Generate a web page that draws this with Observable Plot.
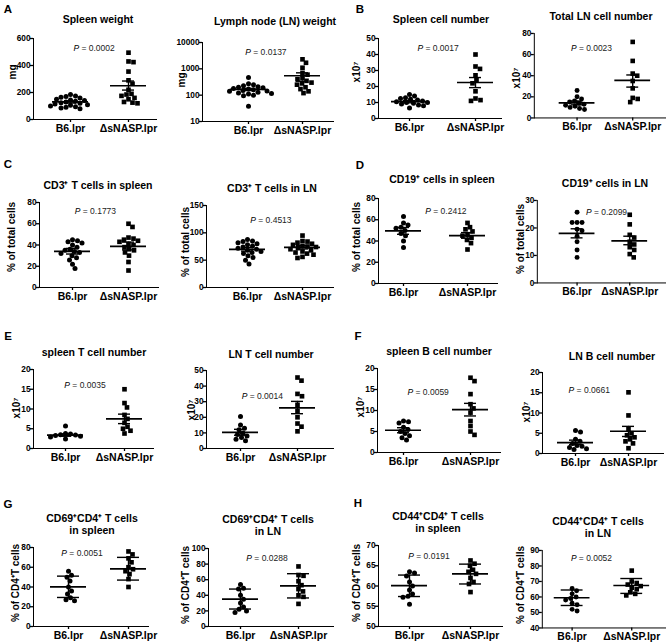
<!DOCTYPE html>
<html><head><meta charset="utf-8">
<script src="https://cdn.jsdelivr.net/npm/d3@7"></script>
<script src="https://cdn.jsdelivr.net/npm/@observablehq/plot@0.6"></script>
<style>
body{margin:0;background:#fff;}
#fig{position:relative;width:669px;height:644px;overflow:hidden;background:#fff;font-family:"Liberation Sans",Arial,Helvetica,sans-serif;color:#000;}
.panel{position:absolute;}
.title{position:absolute;transform:translate(-50%,-50%);font-weight:bold;font-size:10.5px;white-space:nowrap;text-align:center;line-height:12px;}
.letter{position:absolute;transform:translate(-50%,-50%);font-weight:bold;font-size:11.5px;}
.ylab{position:absolute;transform:translate(-50%,-50%) rotate(-90deg);font-weight:bold;font-size:10px;white-space:nowrap;}
g[aria-label^="x-axis"] text{font-size:10.5px;}
g[aria-label^="x-axis"] path, g[aria-label^="x-axis"] line, g[aria-label^="y-axis"] path, g[aria-label^="y-axis"] line{stroke-width:1.3px;}
</style></head><body><div id="fig"></div><script>
const groups = ["B6.lpr", "\u0394sNASP.lpr"];

// ---- point values (B6.lpr = circles, ΔsNASP.lpr = squares) ----
const spleenWeightB6 = [185,175,170,165,160,150,145,140,135,130,125,120,115,110,105,100,95,90,85,80];
const spleenWeightKO = [495,430,425,355,290,265,220,190,185,175,160,150,130,125,120];
const lnWeightB6 = [470,270,250,230,210,200,190,180,170,160,150,145,140,130,120,115,110,100,95,38];
const lnWeightKO = [2300,1700,1100,700,600,450,400,350,300,280,250,200,170,140,120];
const spleenCellsB6 = [15,14,13,12.5,12,11.5,11,10.5,10,10,9.5,9,8.5,8,6.5];
const spleenCellsKO = [40,32.5,31,27,24,22,17,12.5,11.5,11];
const lnCellsB6 = [26,20,18,16,15,14,13,12,11,10,9,8];
const lnCellsKO = [72,54,42,40,35,28,19,18,15];
const cd3SpleenB6 = [45,44,43,42,40,38,36,35,34,33,32,30,28,26,22,18];
const cd3SpleenKO = [60,57,47,46,45,44,43,41,40,38,36,35,33,30,24,16];
const cd3LnB6 = [88,85,84,82,80,78,76,74,72,70,68,66,64,62,58,55,50,43];
const cd3LnKO = [95,85,84,82,80,78,76,75,74,72,70,68,66,64,62,60,56,54];
const cd19SpleenB6 = [63,57,55,53,52,50,47,45,40,34];
const cd19SpleenKO = [57,53,51,49,46,45,43,41,38,32];
const cd19LnB6 = [25.7,22,22,22,19.5,19,17,15,12,9.3];
const cd19LnKO = [24.8,21.3,17.5,16.5,15,14,13,12,10.5,9.3];
const spleenTB6 = [5.7,3.8,3.7,3.5,3.4,3.3,3.1,2.9,2.4];
const spleenTKO = [15,11.5,10.4,8.5,7.5,6.5,5.5,5,4.5,3.8];
const lnTB6 = [20.5,15,13,12,10,9,8,7,6,5];
const lnTKO = [45.5,43.5,35,33.5,28,24,20,16,14,11];
const spleenBB6 = [7.5,7.3,7,6,5.5,5,4.5,4,3.5,3];
const spleenBKO = [17.8,17,13.9,11.5,10.5,9.5,7.5,6.3,5,4.2];
const lnBB6 = [5.7,5.3,3.5,3,2.5,2,1.8,1.5,1.2,1.0];
const lnBKO = [15.1,9.4,6,5,4.5,4,3.5,3,2.5,1.3];
const cd69SpleenB6 = [56,52,50,46,40,36,33,29,27,26];
const cd69SpleenKO = [76,73,69,65,60,58,56,53,48,40];
const cd69LnB6 = [54,49,48,40,35,30,25,22,20,18];
const cd69LnKO = [77,66,65,58,53,48,45,40,38,29];
const cd44SpleenB6 = [63.5,63.2,62.5,61,60,59,58,57.5,57.2,55.5];
const cd44SpleenKO = [66.3,65.5,65,64,63.5,63,62,61,60.5,58.5];
const cd44LnB6 = [65.5,64,62,60,59,58,56,55,52,51];
const cd44LnKO = [77,70,69,68,67,66,65,63,62,61];

// ---- summary lines [B6, ΔsNASP] ----
const means = [[130,250],[165,545],[10.5,22.5],[14.2,35.5],[34,38.8],[69.8,73.5],[49.5,45.1],[18,15.3],
  [3.4,7.5],[10.3,26],[5.3,10.2],[2.7,5.5],[40.2,58.4],[35,52],[60.1,63],[59.5,67.4]];
const errLow = [[122,218],[150,340],[9.8,19.3],[12.4,29.2],[31.5,35.4],[66.5,70.5],[46.3,42.6],[16.4,13.9],
  [3.1,6.3],[8.5,22.3],[4.7,8.7],[2.2,4.2],[29.4,47],[22.4,36.6],[57.4,60.5],[54.5,62.3]];
const errHigh = [[138,285],[180,705],[11.2,25.6],[16,40.7],[36.8,42.7],[73,76.5],[52.7,47.9],[19.7,17],
  [3.7,8.7],[12.3,30.2],[5.9,11.7],[3.3,6.7],[51,70],[48,67.7],[62.7,65.4],[64.5,71.9]];

const pValues = ["0.0002","0.0137","0.0017","0.0023","0.1773","0.4513","0.2412","0.2099",
  "0.0035","0.0014","0.0059","0.0661","0.0051","0.0288","0.0191","0.0052"];
const titles = ["Spleen weight","Lymph node (LN) weight","Spleen cell number","Total LN cell number",
  "CD3\u207A T cells in spleen","CD3\u207A T cells in LN","CD19\u207A cells in spleen","CD19\u207A cells in LN",
  "spleen T cell number","LN T cell number","spleen B cell number","LN B cell number",
  "CD69\u207ACD4\u207A T cells<br>in spleen","CD69\u207ACD4\u207A T cells<br>in LN",
  "CD44\u207ACD4\u207A T cells<br>in spleen","CD44\u207ACD4\u207A T cells<br>in LN"];
const yLabels = ["mg","mg","x10\u2077","x10\u2077","% of total cells","% of total cells","% of total cells","% of total cells",
  "x10\u2077","x10\u2077","x10\u2077","x10\u2077","% of CD4\u207AT cells","% of CD4\u207AT cells","% of CD4\u207AT cells","% of CD4\u207AT cells"];
const yTypes = ["linear","log","linear","linear","linear","linear","linear","linear","linear","linear","linear","linear","linear","linear","linear","linear"];
const yDomains = [[0,600],[10,10000],[0,50],[0,80],[0,80],[0,150],[0,80],[0,30],[0,20],[0,50],[0,20],[0,20],[0,80],[0,100],[50,70],[40,90]];
const yTicks = [[0,200,400,600],[10,100,1000,10000],[0,10,20,30,40,50],[0,20,40,60,80],[0,20,40,60,80],[0,50,100,150],
  [0,20,40,60,80],[0,10,20,30],[0,5,10,15,20],[0,10,20,30,40,50],[0,5,10,15,20],[0,5,10,15,20],
  [0,20,40,60,80],[0,20,40,60,80,100],[50,55,60,65,70],[40,50,60,70,80,90]];
const b6Values = [spleenWeightB6,lnWeightB6,spleenCellsB6,lnCellsB6,cd3SpleenB6,cd3LnB6,cd19SpleenB6,cd19LnB6,
  spleenTB6,lnTB6,spleenBB6,lnBB6,cd69SpleenB6,cd69LnB6,cd44SpleenB6,cd44LnB6];
const koValues = [spleenWeightKO,lnWeightKO,spleenCellsKO,lnCellsKO,cd3SpleenKO,cd3LnKO,cd19SpleenKO,cd19LnKO,
  spleenTKO,lnTKO,spleenBKO,lnBKO,cd69SpleenKO,cd69LnKO,cd44SpleenKO,cd44LnKO];

// ---- layout (page pixels): [axisLeft, axisRight, frameTop, frameBottom, B6 tick, ΔsNASP tick] ----
const frames = [[33,156,38,119,70,128],[202,333,42,121,248,302],[378,501,38,118,409,475],[534,666,33,118,577,633],
  [39,158,202,287,72,128],[206,333,205,287,247,302],[378,497,198,283,403,467],[537,666,200,283,577,630],
  [33,153,369,448,65,124],[206,333,370,448,240,297],[377,500,368,452,403,470],[542,663,372,453,575,628],
  [33,148,547,626,68,128],[208,333,548,626,240,298],[378,502,545,626,409,470],[542,666,550,628,572,632]];
const pLabelAt = [[1.05,526],[0.94,4170],[1.12,43.75],[0.89,65.9],[1.04,71.5],[1.05,122.6],[1.34,67.8],[1.17,25.7],
  [0.98,15.9],[1.02,33.3],[1.06,14.3],[0.87,15.6],[0.88,73.9],[1.10,87.2],[0.98,67.3],[0.98,84.9]];
const yLabelAt = [[12,72],[181,80],[356,72],[516,78],[11,237],[185,242],[356,237],[520,239],
  [16,408],[191,410],[360,407],[526,412],[15,583],[185,585],[356,583],[520,585]];
const titleAt = [[98,19],[275,21],[441,19],[601,16],[98,185],[272,188],[442,179],[605,183],
  [94,352],[271,354],[439,351],[612,356],[92,524],[268,525],[438,522],[598,527]];
const letters = [["A",8,9],["B",360,9],["C",8,164],["D",360,165],["E",8,336],["F",358,336],["G",8,504],["H",358,503]];

const fig = document.getElementById("fig");
const mL = 30, mR = 4, mT = 5, mB = 22, R = 2.5, MIN_GAP = 4.9;

function swarm(values, g, yS, unitPx) {
  const placed = [], out = [];
  const order = values.map((v, i) => i).sort((a, b) => values[b] - values[a]);
  for (const i of order) {
    const py = yS(values[i]);
    let off = 0;
    for (let k = 0; k < 600; k++) {
      const c = (k % 2 ? 1 : -1) * Math.ceil(k / 2) * 0.5;
      if (placed.every(p => Math.hypot(p.x - c, p.y - py) >= MIN_GAP)) { off = c; break; }
    }
    placed.push({x: off, y: py});
    out.push({x: g + off / unitPx, v: values[i]});
  }
  return out;
}

function addDiv(cls, html, x, y) {
  const d = document.createElement("div");
  d.className = cls;
  d.innerHTML = html;
  d.style.left = x + "px";
  d.style.top = y + "px";
  fig.appendChild(d);
}

for (let k = 0; k < 16; k++) {
  const [x0, x1, yT, yB, bx, dx] = frames[k];
  const unit = dx - bx;
  const xDom = [1 - (bx - x0) / unit, 2 + (x1 - dx) / unit];
  const fh = yB - yT;
  const yS = (yTypes[k] === "log" ? d3.scaleLog() : d3.scaleLinear()).domain(yDomains[k]).range([fh, 0]);
  const b6 = swarm(b6Values[k], 1, yS, unit);
  const ko = swarm(koValues[k], 2, yS, unit);
  const stats = [1, 2].map(g => ({g, mean: means[k][g - 1], lo: errLow[k][g - 1], hi: errHigh[k][g - 1]}));
  const meanHalf = 18 / unit, capHalf = (k >= 12 ? 11 : 6) / unit;
  const pRow = [{x: pLabelAt[k][0], y: pLabelAt[k][1], p: "P", rest: "= " + pValues[k]}];
  const plot = Plot.plot({
    width: x1 - x0 + mL + mR,
    height: fh + mT + mB,
    marginLeft: mL, marginRight: mR, marginTop: mT, marginBottom: mB,
    style: {fontFamily: '"Liberation Sans",Arial,sans-serif', fontSize: "8.3px", fontWeight: "bold", color: "#000", background: "transparent", overflow: "visible"},
    x: {domain: xDom, ticks: [1, 2], tickFormat: d => groups[d - 1], line: true, tickSize: 3, tickPadding: 2, label: null},
    y: {type: yTypes[k], domain: yDomains[k], ticks: yTicks[k], tickFormat: d => String(d), line: true, tickSize: 3, tickPadding: 0, label: null},
    marks: [
      Plot.ruleY(stats, {y: "mean", x1: d => d.g - meanHalf, x2: d => d.g + meanHalf, strokeWidth: 1.7}),
      Plot.ruleX(stats, {x: "g", y1: "lo", y2: "hi", strokeWidth: 1.4}),
      Plot.ruleY(stats, {y: "lo", x1: d => d.g - capHalf, x2: d => d.g + capHalf, strokeWidth: 1.4}),
      Plot.ruleY(stats, {y: "hi", x1: d => d.g - capHalf, x2: d => d.g + capHalf, strokeWidth: 1.4}),
      Plot.dot(b6, {x: "x", y: "v", r: R, fill: "#000", symbol: "circle"}),
      Plot.dot(ko, {x: "x", y: "v", r: R * 1.05, fill: "#000", symbol: "square"}),
      Plot.text(pRow, {x: "x", y: "y", text: "p", textAnchor: "start", fontStyle: "italic", fontWeight: "normal", fontSize: 8.5}),
      Plot.text(pRow, {x: "x", y: "y", text: "rest", textAnchor: "start", dx: 8, fontWeight: "normal", fontSize: 8.5, fill: "#222"})
    ]
  });
  const holder = document.createElement("div");
  holder.className = "panel";
  holder.style.left = (x0 - mL) + "px";
  holder.style.top = (yT - mT) + "px";
  holder.appendChild(plot);
  fig.appendChild(holder);

  addDiv("title", titles[k], titleAt[k][0], titleAt[k][1]);
  addDiv("ylab", yLabels[k], yLabelAt[k][0], yLabelAt[k][1]);
}
for (const [s, x, y] of letters) addDiv("letter", s, x, y);
</script></body></html>
